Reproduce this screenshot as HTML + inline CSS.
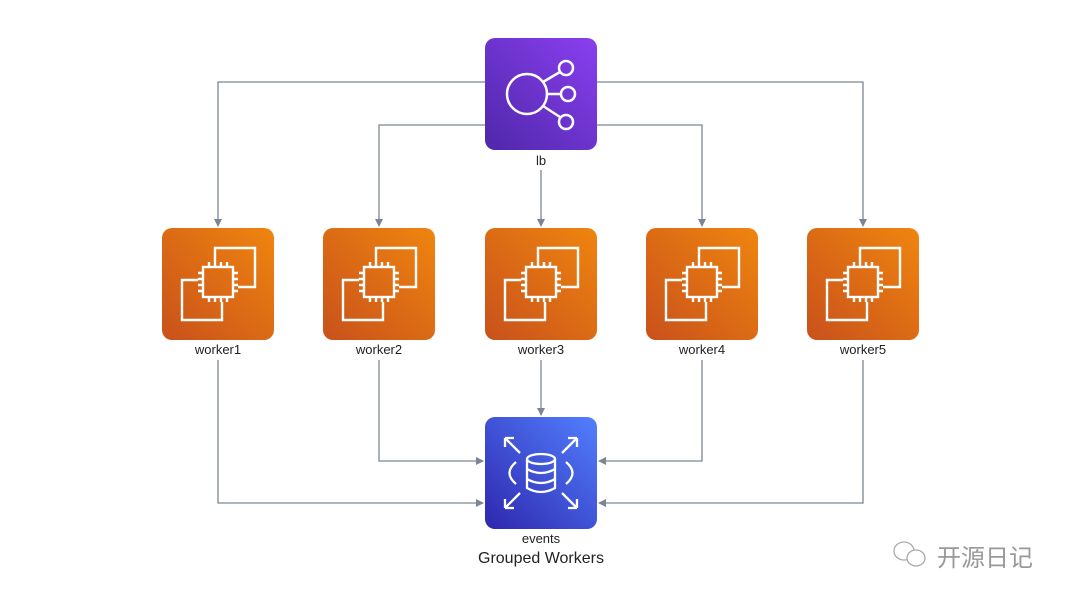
<!DOCTYPE html>
<html><head><meta charset="utf-8"><style>
html,body{margin:0;padding:0;background:#fff;width:1080px;height:605px;overflow:hidden;font-family:"Liberation Sans",sans-serif}
svg{position:absolute;left:0;top:0}
</style></head><body>
<svg width="1080" height="605" viewBox="0 0 1080 605">
<defs>
<linearGradient id="gpp" x1="0" y1="1" x2="1" y2="0"><stop offset="0" stop-color="#4f27aa"/><stop offset="1" stop-color="#8a3ff0"/></linearGradient>
<linearGradient id="go" x1="0" y1="1" x2="1" y2="0"><stop offset="0" stop-color="#c8511b"/><stop offset="1" stop-color="#f0850f"/></linearGradient>
<linearGradient id="gb" x1="0" y1="1" x2="1" y2="0"><stop offset="0" stop-color="#2e27ad"/><stop offset="1" stop-color="#527fff"/></linearGradient>
<marker id="a" markerWidth="8" markerHeight="8" refX="7" refY="4" orient="auto" markerUnits="userSpaceOnUse"><path d="M0,0 L8,4 L0,8 Z" fill="#7b8694"/></marker>
<g id="cpu" fill="none" stroke="#fff" stroke-width="2.4">
<path d="M-3,-22 V-36 H37 V3 H20"/>
<path d="M-20,-4 H-36 V36 H4 V18"/>
<rect x="-15" y="-17" width="30" height="30"/>
<path d="M-9,-17v-5M-3,-17v-5M3,-17v-5M9,-17v-5M-9,13v5M-3,13v5M3,13v5M9,13v5M-15,-11h-5M-15,-5h-5M-15,1h-5M-15,7h-5M15,-11h5M15,-5h5M15,1h5M15,7h5"/>
</g>
</defs>
<g fill="none" stroke="#7b8694" stroke-width="1.3">
<path d="M485,82 H218 V226" marker-end="url(#a)"/>
<path d="M485,125 H379 V226" marker-end="url(#a)"/>
<path d="M541,170 V226" marker-end="url(#a)"/>
<path d="M597,125 H702 V226" marker-end="url(#a)"/>
<path d="M597,82 H863 V226" marker-end="url(#a)"/>
<path d="M218,360 V503 H483" marker-end="url(#a)"/>
<path d="M379,360 V461 H483" marker-end="url(#a)"/>
<path d="M541,360 V415" marker-end="url(#a)"/>
<path d="M702,360 V461 H599" marker-end="url(#a)"/>
<path d="M863,360 V503 H599" marker-end="url(#a)"/>
</g>
<rect x="485" y="38" width="112" height="112" rx="10" fill="url(#gpp)"/>
<g fill="none" stroke="#fff" stroke-width="2.5">
<circle cx="527" cy="94" r="20"/>
<circle cx="566" cy="68" r="7"/><circle cx="568" cy="94" r="7"/><circle cx="566" cy="122" r="7"/>
<path d="M543,82 L560,72 M547,94 H561 M543,106 L560,117"/>
</g>
<text x="541" y="165" font-size="13" text-anchor="middle" fill="#222">lb</text>
<g font-size="13" text-anchor="middle" fill="#222">
<rect x="162" y="228" width="112" height="112" rx="10" fill="url(#go)"/><use href="#cpu" x="218" y="284"/><text x="218" y="354">worker1</text>
<rect x="323" y="228" width="112" height="112" rx="10" fill="url(#go)"/><use href="#cpu" x="379" y="284"/><text x="379" y="354">worker2</text>
<rect x="485" y="228" width="112" height="112" rx="10" fill="url(#go)"/><use href="#cpu" x="541" y="284"/><text x="541" y="354">worker3</text>
<rect x="646" y="228" width="112" height="112" rx="10" fill="url(#go)"/><use href="#cpu" x="702" y="284"/><text x="702" y="354">worker4</text>
<rect x="807" y="228" width="112" height="112" rx="10" fill="url(#go)"/><use href="#cpu" x="863" y="284"/><text x="863" y="354">worker5</text>
</g>
<rect x="485" y="417" width="112" height="112" rx="10" fill="url(#gb)"/>
<g fill="none" stroke="#fff" stroke-width="2.3">
<path d="M505,438 L520,453 M505,438 h9 M505,438 v9"/>
<path d="M577,438 L562,453 M577,438 h-9 M577,438 v9"/>
<path d="M505,508 L520,493 M505,508 h9 M505,508 v-9"/>
<path d="M577,508 L562,493 M577,508 h-9 M577,508 v-9"/>
<path d="M516,462 Q503,473 516,484 M566,462 Q579,473 566,484"/>
<ellipse cx="541" cy="459" rx="14" ry="5"/>
<path d="M527,459 V488 Q541,496 555,488 V459 M527,469 Q541,477 555,469 M527,479 Q541,487 555,479"/>
</g>
<text x="541" y="543" font-size="13" text-anchor="middle" fill="#222">events</text>
<text x="541" y="563" font-size="16" text-anchor="middle" fill="#222">Grouped Workers</text>
<g fill="none" stroke="#aaa" stroke-width="1.3">
<ellipse cx="904" cy="551" rx="10" ry="9"/><ellipse cx="916" cy="558" rx="9" ry="8" fill="#fff"/>
</g>
<text x="937" y="566" font-size="24" fill="#999" font-family="'Noto Sans CJK SC',sans-serif">开源日记</text>
</svg>
</body></html>
